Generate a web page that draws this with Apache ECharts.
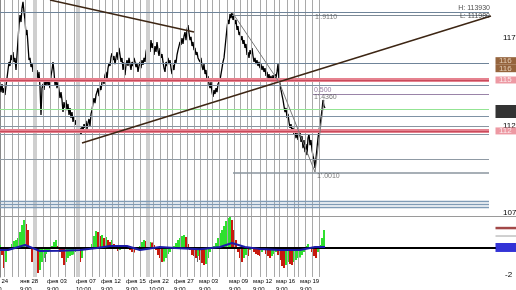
<!DOCTYPE html>
<html><head><meta charset="utf-8">
<script src="https://cdn.jsdelivr.net/npm/echarts@6/dist/echarts.min.js"></script>
<style>html,body{margin:0;padding:0;background:#fff;overflow:hidden}#c{width:516px;height:290px}</style>
</head><body><div id="c"></div>
<script>
// ---------- DATA (bar index = position on the time scale) ----------
const priceBars = [
114.31,113.91,114.37,113.86,114.14,113.74,114.26,114.71,115.17,115.63,
115.40,116.03,115.74,116.20,115.63,115.86,115.17,116.03,116.88,117.74,
118.31,117.91,118.71,119.06,118.48,118.03,117.17,117.46,116.60,115.74,
115.86,115.34,115.57,115.06,115.28,115.63,114.88,115.17,114.60,115.06,
114.20,112.60,114.14,114.37,114.03,114.60,114.26,114.71,114.31,114.48,
114.14,114.83,115.17,115.63,115.06,114.31,114.60,114.14,114.48,114.03,
113.57,113.91,113.46,112.77,113.34,113.00,113.46,112.88,113.23,112.60,
113.00,112.43,112.77,112.20,112.54,112.03,112.31,111.86,112.20,111.63,
111.86,111.46,111.97,111.68,112.08,111.86,112.26,111.80,112.14,112.37,
111.97,112.66,112.88,113.28,113.57,113.28,113.74,113.91,114.14,113.68,
114.26,114.03,114.48,114.71,114.37,114.88,115.06,114.60,115.28,115.57,
115.40,115.91,116.14,115.74,115.97,115.51,115.86,116.20,115.74,116.43,
116.03,115.63,115.86,115.17,115.63,114.88,115.46,115.74,115.40,115.86,
115.51,115.17,115.63,115.40,115.86,115.63,115.34,115.57,115.06,115.40,
115.63,115.28,115.74,115.46,115.86,115.63,116.20,116.48,116.31,116.66,
116.20,116.88,116.43,116.71,116.03,116.54,116.20,116.77,116.31,115.97,
116.43,115.86,116.08,115.63,115.28,115.06,115.63,115.40,115.86,115.51,
115.74,115.28,114.94,115.46,115.17,115.74,115.57,116.03,116.31,116.54,
116.77,116.60,117.00,116.66,117.11,117.34,116.88,117.46,117.74,117.28,
116.88,117.06,116.54,116.77,116.31,116.43,116.03,116.20,115.86,115.97,
115.63,115.86,115.40,115.17,115.51,114.94,115.17,114.60,114.83,114.37,
114.14,114.48,113.91,113.63,114.03,113.80,114.14,113.91,114.37,114.26,
114.60,114.94,115.28,115.63,115.86,116.43,117.00,117.57,118.03,117.80,
118.37,118.14,118.48,118.03,118.26,117.80,118.03,117.46,117.68,117.17,
117.34,116.88,117.11,116.66,116.88,116.43,116.66,116.03,116.20,115.86,
116.31,116.08,116.43,115.97,115.63,115.86,115.51,115.74,115.40,115.63,
115.28,115.51,115.17,115.40,115.06,115.28,114.83,115.06,114.71,114.94,
114.60,114.83,114.48,114.88,114.60,114.94,114.71,115.06,115.51,114.60,
114.37,114.03,113.74,113.46,113.11,112.77,113.00,112.43,112.66,112.20,
111.86,112.08,111.63,111.86,111.46,111.74,111.28,111.57,111.17,111.46,
111.74,111.06,111.40,110.71,111.17,110.48,110.94,110.31,111.28,111.51,
110.88,111.17,110.60,110.26,110.03,109.57,110.14,110.71,111.28,111.74,
112.03,112.43,112.88,113.46,113.11,113.00
];

const oscBars = [
[0,0.22],[2,-0.52],[4,-1.48],[6,-1.04],[8,-0.15],[10,0.07],[12,0.30],[14,0.52],[16,0.59],[18,0.74],
[20,1.19],[22,1.70],[24,2.07],[26,1.78],[28,1.33],[30,0.0],[32,-1.04],[34,-1.26],[36,-1.48],[38,-1.85],
[40,-1.63],[42,-1.04],[44,-0.74],[46,-0.44],[48,-0.30],[50,-0.15],[52,0.15],[54,0.44],[56,0.59],[58,0.15],
[60,-0.30],[62,-0.74],[64,-1.26],[66,-1.04],[68,-0.74],[70,-0.59],[72,-0.52],[74,-0.48],[76,-0.30],[78,-0.59],
[80,-1.04],[82,-0.74],[84,-0.15],[86,-0.07],[88,-0.15],[90,0.02],[92,0.30],[94,0.89],[96,1.26],[98,1.19],
[100,0.89],[102,0.96],[104,0.74],[106,0.81],[108,0.59],[110,0.44],[112,0.59],[114,0.30],[116,0.0],[118,-0.22],
[120,-0.15],[122,0.0],[124,0.15],[126,0.22],[128,0.15],[130,-0.15],[132,-0.30],[134,-0.33],[136,-0.15],[138,0.0],
[140,0.15],[142,0.44],[144,0.59],[146,0.52],[148,0.37],[150,0.44],[152,0.41],[154,0.22],[156,-0.15],[158,-0.52],
[160,-0.74],[162,-1.04],[164,-1.00],[166,-0.74],[168,-0.44],[170,-0.30],[172,-0.07],[174,0.15],[176,0.37],[178,0.59],
[180,0.74],[182,0.89],[184,0.96],[186,0.81],[188,0.30],[190,-0.15],[192,-0.52],[194,-0.59],[196,-0.74],[198,-0.59],
[200,-0.89],[202,-1.11],[204,-1.26],[206,-1.19],[208,-0.74],[210,-0.30],[212,0.0],[214,0.15],[216,0.37],[218,0.74],
[220,1.11],[222,1.33],[224,1.63],[226,2.00],[228,2.22],[230,2.30],[232,2.07],[234,1.33],[236,0.59],[238,-0.30],
[240,-0.74],[242,-1.04],[244,-0.74],[246,-0.52],[248,-0.59],[250,-0.15],[252,0.0],[254,-0.30],[256,-0.44],[258,-0.52],
[260,-0.59],[262,-0.30],[264,-0.15],[266,-0.44],[268,-0.59],[270,-0.74],[272,-0.59],[274,-0.44],[276,-0.30],[278,-0.52],
[280,-0.89],[282,-1.33],[284,-1.48],[286,-1.26],[288,-1.04],[290,-1.19],[292,-1.26],[294,-1.04],[296,-0.89],[298,-0.74],
[300,-0.70],[302,-0.52],[304,-0.30],[306,0.15],[308,0.30],[310,0.0],[312,-0.30],[314,-0.59],[316,-0.74],[318,-0.30],
[320,0.22],[322,0.74],[324,1.33]
];

const oscSignal = [[0,-0.15],[8,-0.15],[25,0.22],[40,-0.22],[60,-0.2],[80,-0.15],[97,0.0],[110,0.15],[127,0.15],
[140,-0.15],[160,0.07],[175,0.0],[200,-0.1],[220,0.07],[232,0.37],[245,0.07],[260,-0.07],[280,-0.15],
[300,-0.15],[315,0.07],[325,0.07]];

const daySeparators = [4,12,18,25,43,50,58,65,74,85,92,99,105,112,118,124,133,140,153,160,167,172,180,187,
194,200,207,212,219,227,234,240,247,251,260,266,274,279,287,294,298,305,312,319];
const weekSeparators = [35,78,148];

const timeTicks = [-12,18,45,74,99,124,147,172,197,227,251,274,298];
const timeLabels = ['янв 24','янв 28','фев 03','фев 07','фев 12','фев 15','фев 22','фев 27','мар 03','мар 09','мар 12','мар 16','мар 19'];
const timeLabels2 = ['9:00','9:00','9:00','10:00','9:00','9:00','10:00','9:00','9:00','9:00','9:00','9:00','9:00'];

const priceLabels = [107,112,117];
const priceTicks = [108,109,110,111,113,114,115,116,118,119];
const oscLabels = [-2];
const oscTicks = [-1.6,-1.2,-0.8,-0.4,0,0.4,0.8,1.2,1.6,2];

const levelPrices = [118.46,118.31,115.57,114.60,114.31,113.80,112.94,112.54,111.97,111.69,111.51,110.06,109.29,107.69,107.51,107.34];
const levelFrom   = [-20,232,-20,-20,-20,313,-20,-20,-20,-20,-20,-20,233,-20,-20,-20];
const levelTo = 489;

const trendLines = [[[50,119.17],[194,117.34]],[[82,111.00],[491,118.26]]];
const zigzag = [[232,118.48],[279,114.49],[315,109.34],[324,113.46]];

const noteText  = ['H: 113930','L: 111980',"1'.9110",'0.500',"1'.4360","1'.0010"];
const noteX     = [490,490,315,314,314,317];
const notePrice = [118.71,118.28,118.20,114.03,113.63,109.11];

const markerPrices = [115.69,115.26,114.60,111.69];
const markerTexts  = ['116','116','115','112'];
const currentPrice = 112.80;
const oscMarkers = [1.48,0.89,0.04];
const markerX = 506;

// ---------- STYLES ----------
const FONT = 'Liberation Sans';
const levelStyle = [
 {color:'#6f8499',width:1},{color:'#7d8a96',width:1},{color:'#6f8499',width:1},{color:'#e5828f',width:4},
 {color:'#7f92a4',width:1},{color:'#9a84a8',width:1},{color:'#93e493',width:1},{color:'#7f92a4',width:1},
 {color:'#8a96a2',width:1},{color:'#e5828f',width:4},{color:'#8a96a2',width:1},{color:'#8f9aa4',width:1},
 {color:'#8a949e',width:1.5},{color:'#7f9bb6',width:1.3},{color:'#7f9bb6',width:1.3},{color:'#7f9bb6',width:1.3}
];
const markerBox = ['#7a3d0c','#7a3d0c','#e8808c','#e8808c'];
const markerInk = ['#f4e4d0','#f4e4d0','#ffffff','#ffffff'];
const markerH = [7.5,7.5,7,7];
const oscMarkerColor = ['#8b1a1a','#8a8a8a','#0000cc'];
const oscMarkerH = [2.5,1,9];

const pMin = 106.83, pMax = 119.17;
const oMin = -2.15, oMax = 2.30;

const vMarks = daySeparators.map(x=>({xAxis:x}))
  .concat(weekSeparators.map(x=>({xAxis:x,lineStyle:{color:'#cfcfcf',width:4}})));

const levelMarks = levelPrices.map((p,i)=>[
  {coord:[levelFrom[i],p],lineStyle:levelStyle[i]},{coord:[levelTo,p]}]);
[3,9].forEach(i=>levelMarks.push([{coord:[levelFrom[i],levelPrices[i]],lineStyle:{color:'#c94a5b',width:1}},{coord:[levelTo,levelPrices[i]]}]));

const trendMarks = trendLines.map(t=>[{coord:t[0]},{coord:t[1]}]);

const noteData = noteText.map((t,i)=>({
  value:[noteX[i],notePrice[i]], name:t,
  label:{position: i<2 ? 'left' : 'right', color: i===3 ? '#7a5a8a' : (i<2 ? '#222' : '#555')}
}));

const boxData = markerPrices.map((p,i)=>({value:[markerX,p],symbolSize:[21,markerH[i]],itemStyle:{color:markerBox[i]}}))
  .concat([{value:[markerX,currentPrice],symbolSize:[21,13],itemStyle:{color:'#000'}}]);
const boxText = markerTexts.map((t,i)=>({value:[498,markerPrices[i]],name:t,label:{color:markerInk[i]}}));
const oscBoxData = oscMarkers.map((v,i)=>({value:[markerX,v],symbolSize:[21,oscMarkerH[i]],itemStyle:{color:oscMarkerColor[i]}}));

const option = {
 animation:false,
 backgroundColor:'#fff',
 grid:[
  {left:-20,right:20,top:0,height:216,outerBoundsMode:'none',containLabel:false},
  {left:-20,right:20,top:217,height:60,outerBoundsMode:'none',containLabel:false},
  {left:0,right:0,top:0,height:216.5,outerBoundsMode:'none',containLabel:false}
 ],
 xAxis:[
  {gridIndex:0,type:'value',min:-20,max:496,show:false},
  {gridIndex:1,type:'value',min:-20,max:496,
   axisLine:{show:true,lineStyle:{color:'#b0b0b0'}},
   axisTick:{show:true,customValues:timeTicks,length:14,lineStyle:{color:'#666'}},
   axisLabel:{customValues:timeTicks,hideOverlap:false,align:'left',margin:0,fontSize:6,lineHeight:8,fontFamily:FONT,color:'#000',padding:[0,0,0,2],
     formatter:(v)=>{const i=timeTicks.indexOf(v);return i<0?'':timeLabels[i]+'\n'+timeLabels2[i];}},
   splitLine:{show:false}},
  {gridIndex:2,type:'value',min:0,max:1,axisLine:{show:true,lineStyle:{color:'#9a9a9a'}},axisTick:{show:false},axisLabel:{show:false},splitLine:{show:false}}
 ],
 yAxis:[
  {gridIndex:0,type:'value',position:'right',min:pMin,max:pMax,
   axisLine:{show:true,lineStyle:{color:'#8a8a8a'}},
   axisTick:{show:true,inside:true,length:3,customValues:priceTicks.concat(priceLabels),lineStyle:{color:'#666'}},
   axisLabel:{customValues:priceLabels,hideOverlap:false,margin:7,fontSize:8,fontFamily:FONT,color:'#000',formatter:v=>String(Math.round(v))},
   splitLine:{show:false}},
  {gridIndex:1,type:'value',position:'right',min:oMin,max:oMax,
   axisLine:{show:true,lineStyle:{color:'#8a8a8a'}},
   axisTick:{show:true,inside:true,length:2,customValues:oscTicks.concat(oscLabels),lineStyle:{color:'#666'}},
   axisLabel:{customValues:oscLabels,margin:9,fontSize:8,fontFamily:FONT,color:'#000'},
   splitLine:{show:false}},
  {gridIndex:2,type:'value',min:0,max:1,show:false}
 ],
 series:[
  {type:'line',xAxisIndex:0,yAxisIndex:0,data:[],z:1,silent:true,
   markLine:{silent:true,symbol:'none',label:{show:false},lineStyle:{color:'#a9a9a9',width:1,type:'solid'},data:vMarks}},
  {type:'line',xAxisIndex:1,yAxisIndex:1,data:[],z:1,silent:true,
   markLine:{silent:true,symbol:'none',label:{show:false},lineStyle:{color:'#a9a9a9',width:1,type:'solid'},data:vMarks}},
  {type:'line',name:'price',xAxisIndex:0,yAxisIndex:0,data:priceBars.map((v,i)=>[i,v]),
   showSymbol:false,symbol:'none',lineStyle:{color:'#000',width:1.3},z:3},
  {type:'line',xAxisIndex:0,yAxisIndex:0,data:[],z:4,silent:true,
   markLine:{silent:true,symbol:'none',label:{show:false},lineStyle:{type:'solid'},data:levelMarks}},
  {type:'line',xAxisIndex:0,yAxisIndex:0,data:[],z:5,silent:true,
   markLine:{silent:true,symbol:'none',label:{show:false},lineStyle:{type:'solid',color:'#3d2614',width:1.5},data:trendMarks}},
  {type:'line',xAxisIndex:0,yAxisIndex:0,data:zigzag,z:5,showSymbol:false,symbol:'none',lineStyle:{color:'#7a7a7a',width:1}},
  {type:'scatter',xAxisIndex:0,yAxisIndex:0,symbolSize:0,z:6,silent:true,data:noteData,
   label:{show:true,fontSize:7,fontFamily:FONT,distance:0,formatter:p=>p.name}},
  {type:'scatter',xAxisIndex:0,yAxisIndex:0,symbol:'rect',z:6,silent:true,clip:false,data:boxData},
  {type:'scatter',xAxisIndex:0,yAxisIndex:0,symbolSize:0,z:7,silent:true,clip:false,data:boxText,
   label:{show:true,position:'right',distance:1,fontSize:8,fontFamily:FONT,formatter:p=>p.name}},
  {type:'bar',xAxisIndex:1,yAxisIndex:1,data:oscBars,barWidth:2,z:3,silent:true,
   itemStyle:{color:p=>{const i=p.dataIndex;const prev=i>0?oscBars[i-1][1]:0;return oscBars[i][1]>=prev?'#2fe02f':'#c81a0e';}}},
  {type:'line',xAxisIndex:1,yAxisIndex:1,data:[],z:4,silent:true,
   markLine:{silent:true,symbol:'none',label:{show:false},data:[{yAxis:0,lineStyle:{color:'#000',width:2,type:'solid'}}]}},
  {type:'line',xAxisIndex:1,yAxisIndex:1,data:oscSignal,z:5,showSymbol:false,symbol:'none',lineStyle:{color:'#1c1ca8',width:2}},
  {type:'scatter',xAxisIndex:1,yAxisIndex:1,symbol:'rect',z:6,silent:true,clip:false,data:oscBoxData}
 ]
};
const chart = echarts.init(document.getElementById('c'));
chart.setOption(option);
</script></body></html>
